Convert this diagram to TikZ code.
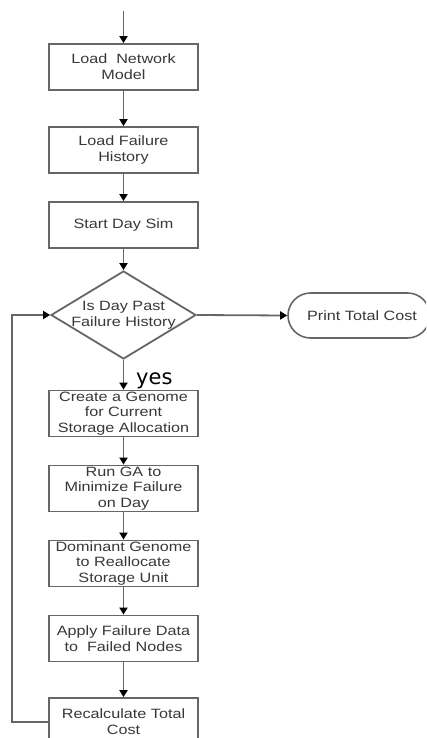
\documentclass[tikz,border=0pt]{standalone}
\usepackage{fontspec}
\usetikzlibrary{arrows.meta,shapes.geometric,shapes.misc}
\newfontfamily\boxfont[FakeStretch=1.2]{Liberation Sans}
\newfontfamily\yesfont{DejaVu Sans}
\tikzset{
  x=1pt, y=-1pt,
  conn/.style={draw=black!60, line width=1.8pt, -{Triangle[length=7pt,width=8pt,color=black]}},
  procbox/.style={draw=black!60, line width=1.8pt, rectangle, minimum width=149pt, minimum height=46pt, inner sep=0pt,
    text width=149pt, align=center, font=\boxfont\fontsize{13.5}{15.7}\selectfont, text=black!78},
  txt/.style={align=center, font=\boxfont\fontsize{13.5}{15.7}\selectfont, text=black!78, inner sep=0pt},
  dec/.style={draw=black!60, line width=1.8pt, diamond, minimum width=145pt, minimum height=88pt, inner sep=0pt},
  term/.style={draw=black!60, line width=1.6pt, rounded rectangle, minimum width=142pt, minimum height=45pt, inner sep=0pt,
    font=\boxfont\fontsize{13.5}{15.7}\selectfont, text=black!78}
}
\begin{document}
\begin{tikzpicture}
\useasboundingbox (0,0) rectangle (426,738);
\clip (0,0) rectangle (426,738);
\fill[white] (0,0) rectangle (426,738);
\coordinate (start) at (123.5,11);
\node[procbox] (b1) at (123.5,67) {Load\ \ Network\\Model};
\node[procbox] (b2) at (123.5,150) {Load Failure\\History};
\node[procbox] (b3) at (123.5,225) {Start Day Sim};
\node[dec] (d) at (123.5,315) {};
\node[txt] (dt) at (123.5,315) {Is Day Past\\Failure History};
\node[term] (pt) at (359,315.5) {\hspace*{6pt}Print Total Cost};
\node[procbox] (b4) at (123.5,413.5) {Create a Genome\\for Current\\Storage Allocation};
\node[procbox] (b5) at (123.5,488.5) {Run GA to\\Minimize Failure\\on Day};
\node[procbox] (b6) at (123.5,563.5) {Dominant Genome\\to Reallocate\\Storage Unit};
\node[procbox] (b7) at (123.5,638.5) {Apply Failure Data\\to\ \ Failed Nodes};
\node[procbox, minimum height=48pt] (b8) at (123.5,722) {Recalculate Total\\Cost};
\node[anchor=base west, inner sep=0pt, font=\yesfont\fontsize{21}{24}\selectfont] (yes) at (136,384) {yes};

\draw[conn] (start) -- (b1);
\draw[conn] (b1) -- (b2);
\draw[conn] (b2) -- (b3);
\draw[conn] (b3) -- (d);
\draw[conn] (d) -- (b4);
\draw[conn] (d.east) -- (pt.west);
\draw[conn] (b4) -- (b5);
\draw[conn] (b5) -- (b6);
\draw[conn] (b6) -- (b7);
\draw[conn] (b7) -- (b8);
\draw[conn] (b8.west) -- ++(-36,0) |- (d.west);
\end{tikzpicture}
\end{document}
